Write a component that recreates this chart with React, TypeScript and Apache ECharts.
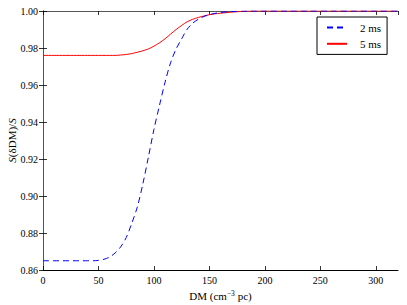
import React, { useEffect, useRef } from "react";
import * as echarts from "echarts";

const dm = [0, 5, 10, 15, 20, 25, 30, 35, 40, 45, 50, 55, 60, 65, 70, 75, 80, 85, 90, 95, 100, 105, 110, 115, 120, 125, 130, 135, 140, 145, 150, 155, 160, 170, 180, 190, 200, 220, 240, 260, 280, 300, 320];
const s2ms = [0.865, 0.865, 0.865, 0.865, 0.865, 0.865, 0.865, 0.865, 0.865, 0.865, 0.8652, 0.8658, 0.867, 0.8692, 0.8725, 0.8775, 0.8852, 0.894, 0.9065, 0.921, 0.936, 0.949, 0.9615, 0.972, 0.9795, 0.985, 0.9902, 0.9935, 0.9955, 0.997, 0.998, 0.9987, 0.9992, 0.9997, 0.9999, 1.0, 1.0, 1.0, 1.0, 1.0, 1.0, 1.0, 1.0];
const s5ms = [0.976, 0.976, 0.976, 0.976, 0.976, 0.976, 0.976, 0.976, 0.976, 0.976, 0.976, 0.976, 0.976, 0.976, 0.9762, 0.9765, 0.977, 0.9777, 0.9785, 0.9795, 0.981, 0.9828, 0.985, 0.9875, 0.99, 0.9922, 0.9942, 0.9955, 0.9965, 0.9973, 0.998, 0.9985, 0.9988, 0.9994, 0.9998, 1.0, 1.0, 1.0, 1.0, 1.0, 1.0, 1.0, 1.0];
const seriesNames = ["2 ms", "5 ms"];
const xTicks = { min: 0, max: 320, interval: 50 };
const yTicks = { min: 0.86, max: 1.0, interval: 0.02 };

const FONT = "Liberation Serif";

export default function App() {
  const ref = useRef<HTMLDivElement>(null);
  useEffect(() => {
    if (!ref.current) return;
    const chart = echarts.init(ref.current, null, { renderer: "svg" });
    const axisLine = { show: true, lineStyle: { color: "#000", width: 1 } };
    const frameLine = { show: true, lineStyle: { color: "#555", width: 1 } };
    const axisTick = { show: true, inside: true, length: 4, lineStyle: { color: "#000", width: 0.8 } };
    chart.setOption({
      animation: false,
      backgroundColor: "#fff",
      grid: { left: 43, right: 9, top: 11, bottom: 35, containLabel: false, outerBoundsMode: "none" },
      legend: {
        orient: "vertical",
        left: 317,
        top: 17,
        padding: [5, 6, 5, 9],
        itemWidth: 20,
        itemHeight: 14,
        itemGap: 5,
        borderColor: "#000",
        borderWidth: 1,
        borderRadius: 0,
        backgroundColor: "#fff",
        itemStyle: { opacity: 0 },
        textStyle: { fontFamily: FONT, fontSize: 11, color: "#000", padding: [0, 0, 0, 8] },
        data: seriesNames,
      },
      xAxis: [
        {
          type: "value",
          min: xTicks.min,
          max: xTicks.max,
          interval: xTicks.interval,
          axisLine,
          axisTick,
          splitLine: { show: false },
          axisLabel: { fontFamily: FONT, fontSize: 10, color: "#000", margin: 5, showMaxLabel: false },
          name: "DM (cm{sup|−3} pc)",
          nameLocation: "middle",
          nameGap: 19,
          nameMoveOverlap: false,
          nameTextStyle: {
            fontFamily: FONT,
            fontSize: 11,
            color: "#000",
            rich: { sup: { fontFamily: FONT, fontSize: 7.5, verticalAlign: "top", padding: [0, 0, 6, 0], color: "#000" } },
          },
        },
        {
          type: "value",
          position: "top",
          min: xTicks.min,
          max: xTicks.max,
          interval: xTicks.interval,
          axisLine: frameLine,
          axisTick,
          splitLine: { show: false },
          axisLabel: { show: false },
        },
      ],
      yAxis: [
        {
          type: "value",
          min: yTicks.min,
          max: yTicks.max,
          interval: yTicks.interval,
          axisLine,
          axisTick,
          splitLine: { show: false },
          axisLabel: { fontFamily: FONT, fontSize: 10, color: "#000", margin: 5, formatter: (v: number) => v.toFixed(2) },
          name: "{i|S}(δDM)/{i|S}",
          nameLocation: "middle",
          nameGap: 26,
          nameMoveOverlap: false,
          nameTextStyle: {
            fontFamily: FONT,
            fontSize: 11,
            color: "#000",
            rich: { i: { fontFamily: FONT, fontSize: 11, fontStyle: "italic", color: "#000" } },
          },
        },
        {
          type: "value",
          position: "right",
          min: yTicks.min,
          max: yTicks.max,
          interval: yTicks.interval,
          axisLine: frameLine,
          axisTick,
          splitLine: { show: false },
          axisLabel: { show: false },
        },
      ],
      series: [
        {
          name: seriesNames[0],
          type: "line",
          smooth: 0.3,
          symbol: "none",
          data: dm.map((x, i) => [x, s2ms[i]]),
          lineStyle: { color: "#0000ff", width: 1, type: [6, 4] },
          itemStyle: { color: "#0000ff" },
          z: 3,
        },
        {
          name: seriesNames[1],
          type: "line",
          smooth: 0.3,
          symbol: "none",
          data: dm.map((x, i) => [x, s5ms[i]]),
          lineStyle: { color: "#ff0000", width: 1 },
          itemStyle: { color: "#ff0000" },
          z: 2,
        },
      ],
    });
    return () => chart.dispose();
  }, []);
  return <div ref={ref} style={{ position: "absolute", left: 0, top: 0, width: 407, height: 305 }} />;
}
